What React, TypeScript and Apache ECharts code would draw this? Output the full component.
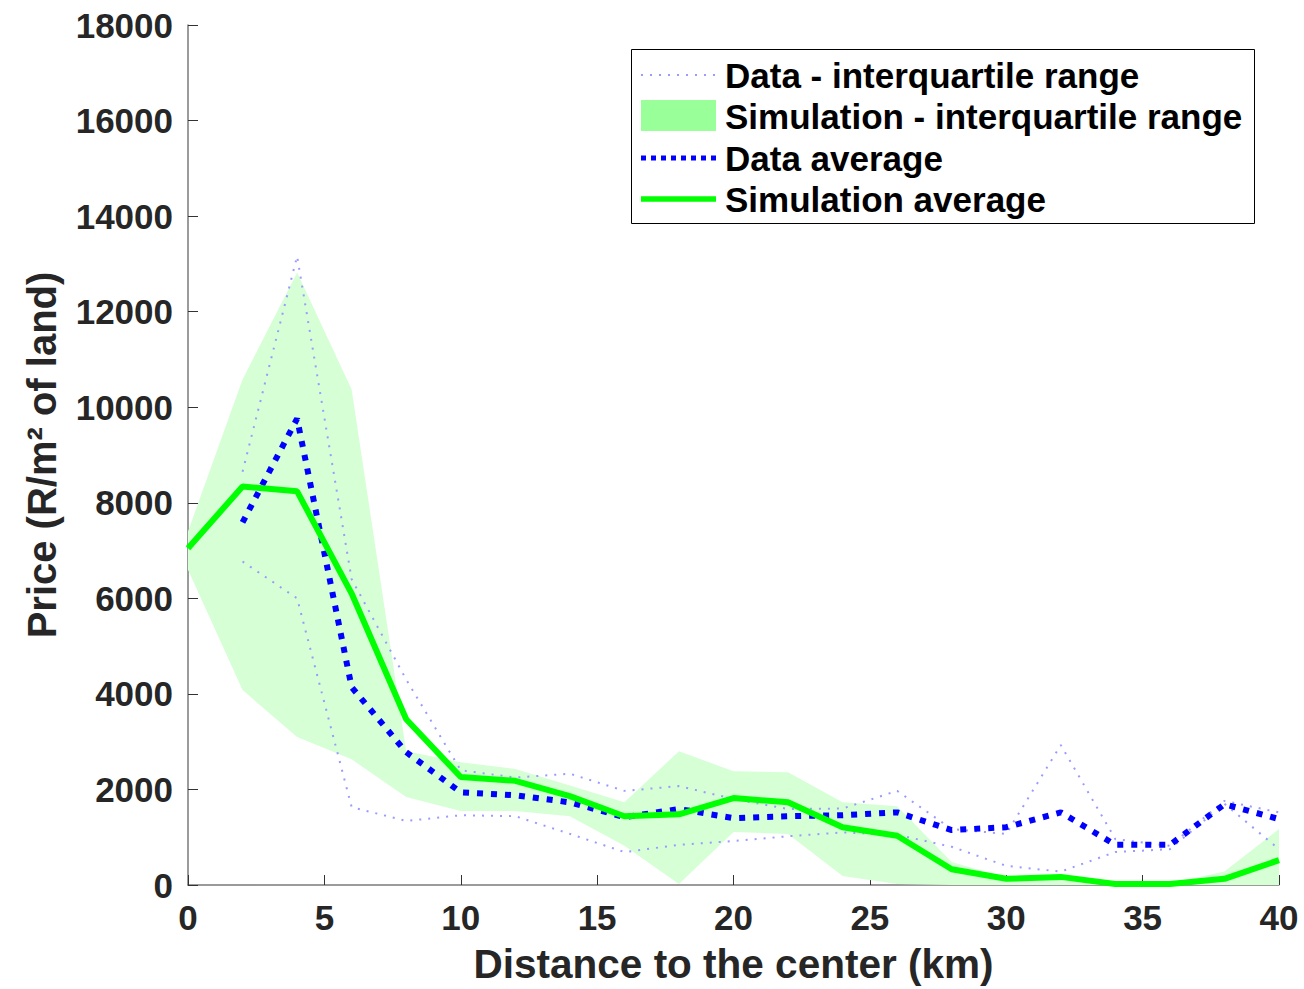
import React, { useEffect, useRef } from "react";
import * as echarts from "echarts";

const distances = [0, 2, 4, 6, 8, 10, 12, 14, 16, 18, 20, 22, 24, 26, 28, 30, 32, 34, 36, 38, 40];

const simAverage = [7050, 8340, 8240, 6100, 3470, 2260, 2180, 1860, 1440, 1480, 1820, 1730, 1210, 1030, 330, 130, 170, 20, 20, 130, 520];
const simQ1 = [6600, 4080, 3100, 2630, 1840, 1550, 1550, 1440, 820, 20, 1110, 1070, 190, 20, 0, 0, 0, 0, 0, 0, 0];
const simQ3 = [7400, 10580, 12820, 10370, 2800, 2570, 2430, 2080, 1730, 2800, 2380, 2360, 1730, 1650, 480, 150, 180, 30, 30, 280, 1170];

const dataAverage = [null, 7590, 9760, 4140, 2780, 1940, 1880, 1730, 1420, 1590, 1400, 1440, 1460, 1520, 1150, 1210, 1520, 840, 840, 1690, 1380];
const dataQ3 = [null, 8650, 13160, 6400, 4300, 2400, 2250, 2330, 1970, 2070, 1800, 1590, 1600, 1970, 1170, 1070, 2930, 960, 820, 1760, 1520];
const dataQ1 = [null, 6770, 6000, 1630, 1340, 1460, 1440, 1070, 690, 840, 920, 1020, 1100, 1050, 800, 400, 280, 690, 750, 1700, 750];

const legendLabels = [
  "Data - interquartile range",
  "Simulation - interquartile range",
  "Data average",
  "Simulation average",
];

const xTicks = [0, 5, 10, 15, 20, 25, 30, 35, 40];
const yTicks = [0, 2000, 4000, 6000, 8000, 10000, 12000, 14000, 16000, 18000];

const FONT = "'Liberation Sans', Arial, Helvetica, sans-serif";

function pairs(ys: (number | null)[]) {
  return distances.map((d, i) => [d, ys[i]]);
}

export default function App() {
  const ref = useRef<HTMLDivElement>(null);

  useEffect(() => {
    if (!ref.current) return;
    const chart = echarts.init(ref.current, undefined, { renderer: "svg" });

    const bandRows = distances.map((d, i) => [d, simQ1[i], simQ3[i]]);

    const legendRowY = [75, 116, 158, 199];
    const legendGraphics: any[] = [
      {
        type: "rect",
        shape: { x: 631.5, y: 49.5, width: 623, height: 174 },
        style: { fill: "#ffffff", stroke: "#000000", lineWidth: 1 },
        z: 100,
      },
      {
        type: "line",
        shape: { x1: 641, y1: legendRowY[0], x2: 716, y2: legendRowY[0] },
        style: { stroke: "#9a9aff", lineWidth: 2, lineDash: [2, 7] },
        z: 101,
      },
      {
        type: "rect",
        shape: { x: 641, y: 100, width: 75, height: 31 },
        style: { fill: "#99ff99" },
        z: 101,
      },
      {
        type: "line",
        shape: { x1: 641, y1: legendRowY[2], x2: 716, y2: legendRowY[2] },
        style: { stroke: "#0000ff", lineWidth: 5, lineDash: [5, 5] },
        z: 101,
      },
      {
        type: "line",
        shape: { x1: 641, y1: legendRowY[3], x2: 716, y2: legendRowY[3] },
        style: { stroke: "#00ff00", lineWidth: 5.5 },
        z: 101,
      },
    ];
    legendLabels.forEach((t, i) => {
      legendGraphics.push({
        type: "text",
        x: 725,
        y: legendRowY[i],
        style: {
          text: t,
          fill: "#000000",
          font: `bold 35px ${FONT}`,
          textVerticalAlign: "middle",
          verticalAlign: "middle",
        },
        z: 102,
      });
    });

    const option: any = {
      animation: false,
      backgroundColor: "#ffffff",
      grid: { left: 188, width: 1091, top: 25, height: 861, containLabel: false },
      xAxis: {
        type: "value",
        min: 0,
        max: 40,
        interval: 5,
        name: "Distance to the center (km)",
        nameLocation: "middle",
        nameGap: 58,
        nameTextStyle: { fontFamily: FONT, fontWeight: "bold", fontSize: 40.5, color: "#262626" },
        axisLine: { show: true, onZero: false, lineStyle: { color: "#7a7a7a", width: 1.5 } },
        axisTick: { show: true, inside: true, length: 10, lineStyle: { color: "#333333" } },
        axisLabel: {
          margin: 15,
          fontFamily: FONT,
          fontWeight: "bold",
          fontSize: 35,
          color: "#262626",
          formatter: (v: number) => (xTicks.includes(v) ? String(v) : ""),
        },
        splitLine: { show: false },
      },
      yAxis: {
        type: "value",
        min: 0,
        max: 18000,
        interval: 2000,
        name: "Price (R/m² of land)",
        nameLocation: "middle",
        nameGap: 126,
        nameTextStyle: { fontFamily: FONT, fontWeight: "bold", fontSize: 40, color: "#262626" },
        axisLine: { show: true, onZero: false, lineStyle: { color: "#7a7a7a", width: 1.5 } },
        axisTick: { show: true, inside: true, length: 10, lineStyle: { color: "#333333" } },
        axisLabel: {
          margin: 15,
          fontFamily: FONT,
          fontWeight: "bold",
          fontSize: 35,
          color: "#262626",
          formatter: (v: number) => (yTicks.includes(v) ? String(v) : ""),
        },
        splitLine: { show: false },
      },
      series: [
        {
          name: "Simulation - interquartile range",
          type: "custom",
          data: bandRows,
          encode: { x: 0, y: [1, 2] },
          z: 1,
          silent: true,
          clip: true,
          renderItem: (params: any, api: any) => {
            if (params.dataIndex !== 0) return null;
            const upper = bandRows.map((r) => api.coord([r[0], r[2]]));
            const lower = bandRows.map((r) => api.coord([r[0], r[1]])).reverse();
            return {
              type: "polygon",
              shape: { points: upper.concat(lower) },
              style: { fill: "#d6ffd6", stroke: "none" },
            };
          },
        },
        {
          name: "dataQ3",
          type: "line",
          data: pairs(dataQ3),
          symbol: "none",
          lineStyle: { color: "#9a9aff", width: 2, type: [2, 7] },
          z: 3,
        },
        {
          name: "dataQ1",
          type: "line",
          data: pairs(dataQ1),
          symbol: "none",
          lineStyle: { color: "#9a9aff", width: 2, type: [2, 7] },
          z: 3,
        },
        {
          name: "Data average",
          type: "line",
          data: pairs(dataAverage),
          symbol: "none",
          lineStyle: { color: "#0000ff", width: 6, type: [6, 8], cap: "butt" },
          z: 4,
        },
        {
          name: "Simulation average",
          type: "line",
          data: pairs(simAverage),
          symbol: "none",
          lineStyle: { color: "#00ff00", width: 6 },
          z: 5,
        },
      ],
      graphic: legendGraphics,
    };

    chart.setOption(option);
    return () => chart.dispose();
  }, []);

  return (
    <div
      ref={ref}
      style={{ position: "absolute", left: 0, top: 0, width: 1304, height: 989, background: "#ffffff" }}
    />
  );
}
